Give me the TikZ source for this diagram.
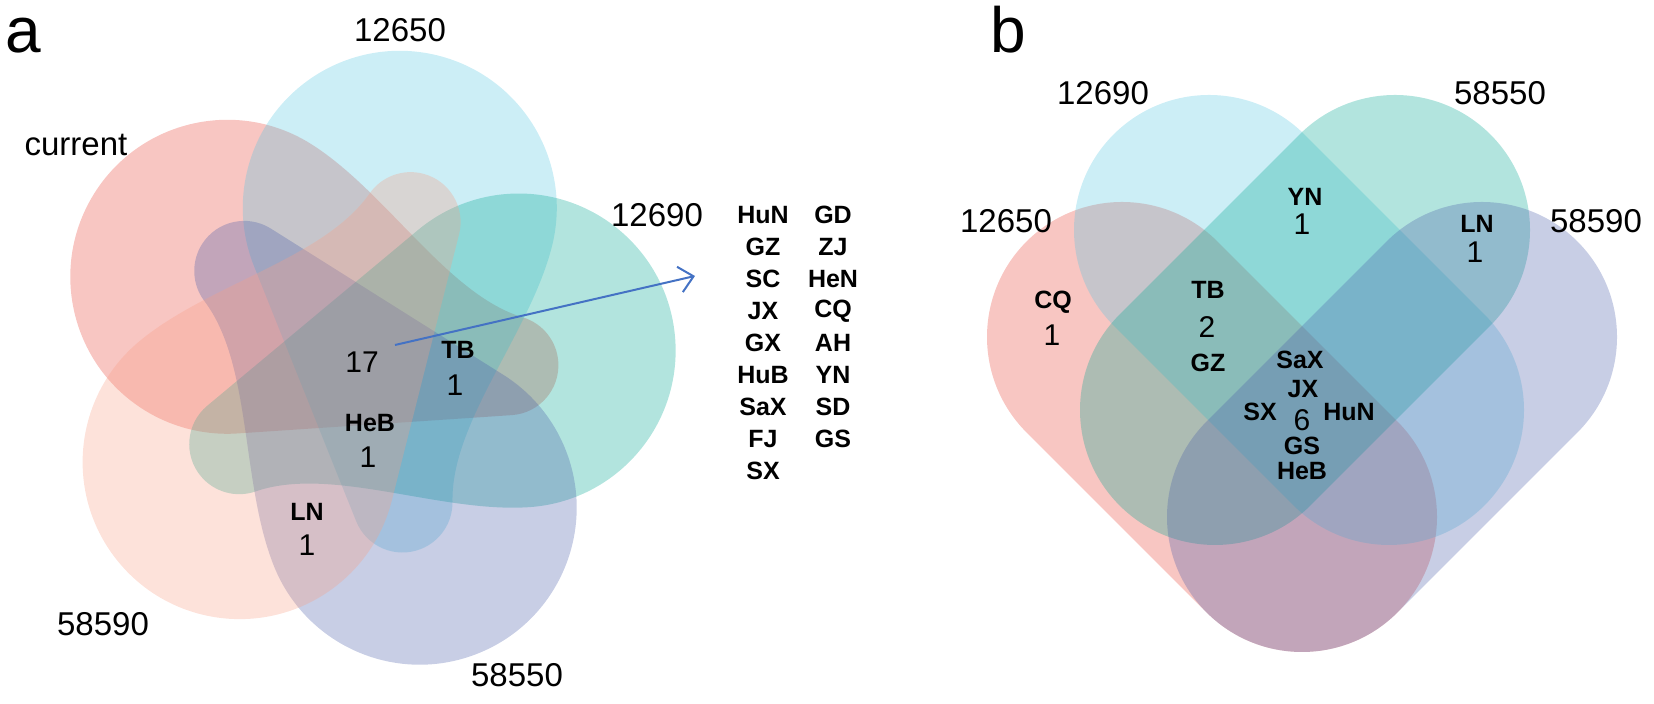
\documentclass[tikz,border=0pt]{standalone}
\usepackage{fontspec}
\setmainfont{Liberation Sans}
\usetikzlibrary{arrows.meta}
\definecolor{cRed}{RGB}{232,65,52}
\definecolor{cBlue}{RGB}{85,198,225}
\definecolor{cTeal}{RGB}{0,166,146}
\definecolor{cGray}{RGB}{72,92,168}
\definecolor{cPeach}{RGB}{248,158,132}
\definecolor{arrowblue}{RGB}{68,114,196}
\tikzset{
  setlab/.style={font=\fontsize{16.5}{18}\selectfont, inner sep=0pt, anchor=base},
  cnt/.style={font=\fontsize{15}{17}\selectfont, inner sep=0pt},
  nm/.style={font=\fontsize{12.5}{14}\selectfont\bfseries, inner sep=0pt},
  panel/.style={font=\fontsize{32}{36}\selectfont, inner sep=0pt, anchor=base west},
  capsule/.style={draw=#1, draw opacity=0.3, line width=135pt, line cap=round}
}
\newcommand{\pearshape}[2]{%
  \fill[#1, fill opacity=0.3, shift={(361,343)}, rotate=#2]
    (158,-157) arc[start angle=-90, end angle=126, radius=157]
    -- (-156.4,-34.5) arc[start angle=126, end angle=285, radius=50]
    .. controls (-37,-102) and (68,-157) .. (158,-157) -- cycle;}
\begin{document}
\begin{tikzpicture}[x=0.5pt, y=0.5pt]
\useasboundingbox (0,0) rectangle (1654,704);
% ---------- panel a ----------
\pearshape{cRed}{147.8}
\pearshape{cBlue}{75.8}
\pearshape{cTeal}{3.8}
\pearshape{cGray}{291.8}
\pearshape{cPeach}{219.8}

\node[panel] (pa) at (5,651) {a};
\node[setlab] (la1) at (400,662) {12650};
\node[setlab] (la2) at (76,548) {current};
\node[setlab] (la3) at (657,477) {12690};
\node[setlab] (la4) at (103,68) {58590};
\node[setlab] (la5) at (517,17) {58550};

\node[cnt] (n17) at (362,342) {17};
\node[nm] (tbA) at (458,354) {TB};
\node[cnt] (tbAn) at (455,319) {1};
\node[nm] (hebA) at (370,281) {HeB};
\node[cnt] (hebAn) at (368,247) {1};
\node[nm] (lnA) at (307,192) {LN};
\node[cnt] (lnAn) at (307,159) {1};

\coordinate (arrS) at (395,359);
\coordinate (arrE) at (695,428);
\draw[arrowblue, line width=1pt, -{Straight Barb[length=7pt,width=13pt]}] (arrS) -- (arrE);

\foreach \t [count=\i from 0] in {HuN,GZ,SC,JX,GX,HuB,SaX,FJ,SX}
  \node[nm] (c1r\i) at (763,{489-32*\i}) {\t};
\foreach \t [count=\i from 0] in {GD,ZJ,HeN,CQ,AH,YN,SD,GS}
  \node[nm] (c2r\i) at (833,{489-32*\i}) {\t};

% ---------- panel b ----------
\draw[capsule=cRed] (1122,367) -- (1302,187);
\draw[capsule=cBlue] (1209,474) -- (1389,294);
\draw[capsule=cTeal] (1395,474) -- (1215,294);
\draw[capsule=cGray] (1482,367) -- (1302,187);

\node[panel] (pb) at (990,651) {b};
\node[setlab] (lb1) at (1103,599) {12690};
\node[setlab] (lb2) at (1500,599) {58550};
\node[setlab] (lb3) at (1006,471) {12650};
\node[setlab] (lb4) at (1596,471) {58590};

\node[nm] (ynB) at (1305,507) {YN};
\node[cnt] (ynBn) at (1302,480) {1};
\node[nm] (lnB) at (1477,480) {LN};
\node[cnt] (lnBn) at (1475,452) {1};
\node[nm] (tbB) at (1208,414) {TB};
\node[cnt] (tbBn) at (1207,377) {2};
\node[nm] (gzB) at (1208,341) {GZ};
\node[nm] (cqB) at (1053,402) {CQ};
\node[cnt] (cqBn) at (1052,369) {1};
\node[nm] (saxB) at (1300,344) {SaX};
\node[nm] (jxB) at (1303,315) {JX};
\node[nm] (sxB) at (1260,292) {SX};
\node[cnt] (sixB) at (1302,284) {6};
\node[nm] (hunB) at (1349,292) {HuN};
\node[nm] (gsB) at (1302,258) {GS};
\node[nm] (hebB) at (1302,233) {HeB};
\end{tikzpicture}
\end{document}
